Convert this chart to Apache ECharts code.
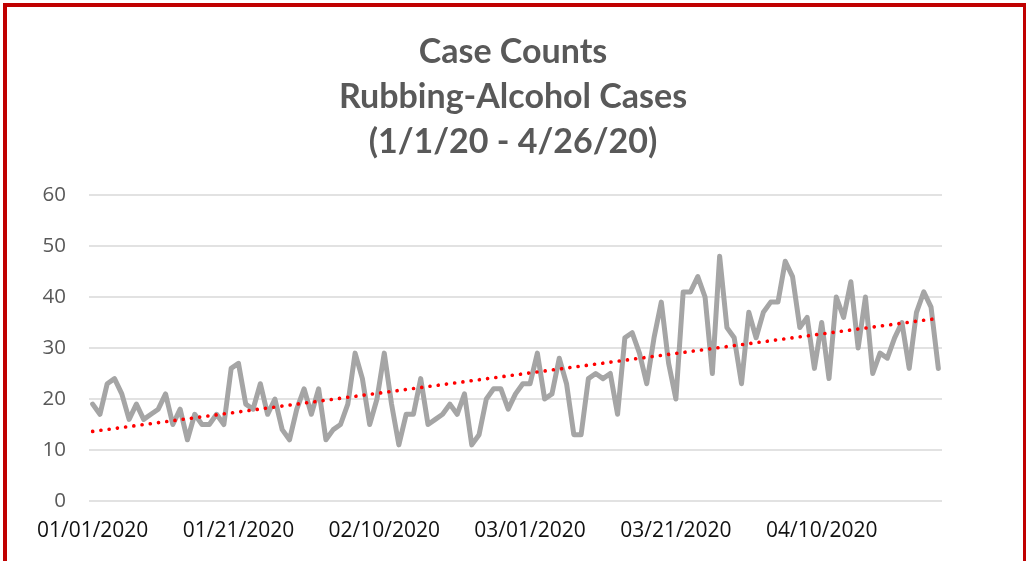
<!DOCTYPE html>
<html>
<head>
<meta charset="utf-8">
<script src="https://cdn.jsdelivr.net/npm/echarts@6/dist/echarts.min.js"></script>
<style>
  html, body { margin: 0; padding: 0; background: #fff; overflow: hidden; }
  #chart { width: 1026px; height: 561px; }
</style>
</head>
<body>
<div id="chart"></div>
<script>
// ---- data ----
const startDate = '2020-01-01';
const caseCounts = [
  19, 17, 23, 24, 21, 16, 19, 16, 17, 18,
  21, 15, 18, 12, 17, 15, 15, 17, 15, 26,
  27, 19, 18, 23, 17, 20, 14, 12, 18, 22,
  17, 22, 12, 14, 15, 19, 29, 24, 15, 20,
  29, 19, 11, 17, 17, 24, 15, 16, 17, 19,
  17, 21, 11, 13, 20, 22, 22, 18, 21, 23,
  23, 29, 20, 21, 28, 23, 13, 13, 24, 25,
  24, 25, 17, 32, 33, 29, 23, 32, 39, 27,
  20, 41, 41, 44, 40, 25, 48, 34, 32, 23,
  37, 32, 37, 39, 39, 47, 44, 34, 36, 26,
  35, 24, 40, 36, 43, 30, 40, 25, 29, 28,
  32, 35, 26, 37, 41, 38, 26
];
const titleLines = ['Case Counts', 'Rubbing-Alcohol Cases', '(1/1/20 - 4/26/20)'];

// ---- category dates (MM/DD/YYYY) ----
const dates = [];
{
  const d0 = new Date(startDate + 'T00:00:00Z');
  for (let i = 0; i < caseCounts.length; i++) {
    const d = new Date(d0.getTime() + i * 86400000);
    const mm = String(d.getUTCMonth() + 1).padStart(2, '0');
    const dd = String(d.getUTCDate()).padStart(2, '0');
    dates.push(mm + '/' + dd + '/' + d.getUTCFullYear());
  }
}

// ---- linear trendline (least squares, like Excel) ----
const n = caseCounts.length;
let sx = 0, sy = 0, sxy = 0, sxx = 0;
caseCounts.forEach((v, i) => { sx += i; sy += v; sxy += i * v; sxx += i * i; });
const slope = (n * sxy - sx * sy) / (n * sxx - sx * sx);
const intercept = (sy - slope * sx) / n;
const trend = caseCounts.map((_, i) => +(intercept + slope * i).toFixed(3));

const chart = echarts.init(document.getElementById('chart'), null, { renderer: 'canvas' });
chart.setOption({
  animation: false,
  backgroundColor: '#ffffff',
  title: {
    text: titleLines.join('\n'),
    left: 'center',
    top: 30,
    padding: 0,
    textStyle: {
      fontFamily: 'Lato',
      fontWeight: 'bold',
      fontSize: 34,
      lineHeight: 45,
      color: '#595959'
    }
  },
  grid: { left: 89, right: 84, top: 195, bottom: 60, containLabel: false },
  xAxis: {
    type: 'category',
    data: dates,
    boundaryGap: true,
    axisLine: { show: false },
    axisTick: { show: false },
    splitLine: { show: false },
    axisLabel: {
      interval: 19,
      margin: 20,
      fontFamily: 'Open Sans',
      fontSize: 21,
      color: '#111111'
    }
  },
  yAxis: {
    type: 'value',
    min: 0,
    max: 60,
    interval: 10,
    axisLine: { show: false },
    axisTick: { show: false },
    axisLabel: {
      margin: 23,
      fontFamily: 'Open Sans',
      fontSize: 20.5,
      color: '#595959'
    },
    splitLine: { lineStyle: { color: '#d9d9d9', width: 1.5 } }
  },
  graphic: [{
    type: 'rect',
    silent: true,
    shape: { x: 5, y: 5, width: 1020, height: 620 },
    style: { fill: 'none', stroke: '#c00000', lineWidth: 4 },
    z: 100
  }],
  series: [
    {
      name: 'Cases',
      type: 'line',
      data: caseCounts,
      showSymbol: false,
      symbol: 'none',
      lineStyle: { color: '#a5a5a5', width: 5, cap: 'round', join: 'round' },
      z: 2
    },
    {
      name: 'Trend',
      type: 'line',
      data: trend,
      showSymbol: false,
      symbol: 'none',
      lineStyle: { color: '#ff0000', width: 3.6, type: [0.1, 8.2], cap: 'round' },
      z: 3
    }
  ]
});
</script>
</body>
</html>
